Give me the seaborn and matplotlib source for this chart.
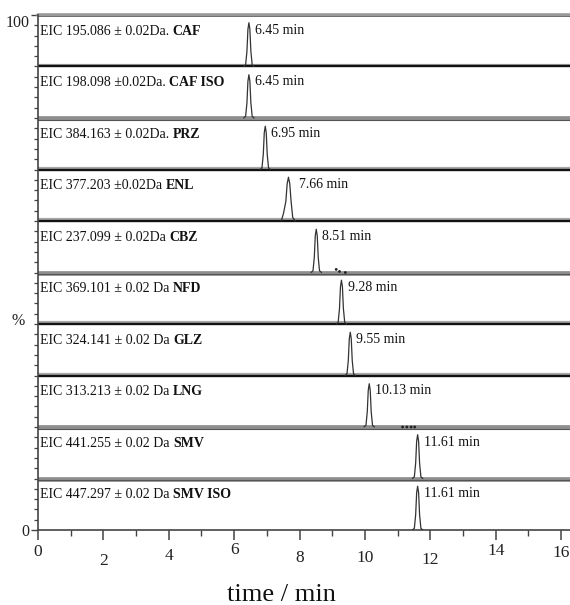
import numpy as np
import pandas as pd
import matplotlib
matplotlib.use("Agg")
import matplotlib.pyplot as plt
import seaborn as sns
from matplotlib.ticker import MultipleLocator, FixedLocator
from matplotlib.transforms import ScaledTranslation

# --- data -----------------------------------------------------------------
compounds = ["CAF", "CAF ISO", "PRZ", "ENL", "CBZ",
             "NFD", "GLZ", "LNG", "SMV", "SMV ISO"]
eic_prefix = ["EIC 195.086 \u00b1 0.02Da. ", "EIC 198.098 \u00b10.02Da. ",
              "EIC 384.163 \u00b1 0.02Da. ", "EIC 377.203 \u00b10.02Da ",
              "EIC 237.099 \u00b1 0.02Da ", "EIC 369.101 \u00b1 0.02 Da ",
              "EIC 324.141 \u00b1 0.02 Da ", "EIC 313.213 \u00b1 0.02 Da ",
              "EIC 441.255 \u00b1 0.02 Da ", "EIC 447.297 \u00b1 0.02 Da "]
retention_min = [6.45, 6.45, 6.95, 7.66, 8.51, 9.28, 9.55, 10.13, 11.61, 11.61]
apex_pct = [85, 84, 84, 85, 84, 85, 84, 84, 85, 85]
peak_kind = ["sharp", "sharp", "sharp", "broad", "sharp",
             "sharp", "sharp", "sharp", "sharp", "sharp"]

# peak profiles: time offset from apex (min) and relative intensity (%)
sharp_dt = [-0.16, -0.10, -0.06, -0.03, 0.0, 0.03, 0.06, 0.10, 0.16]
sharp_rel = [0, 4, 35, 85, 100, 85, 35, 4, 0]
broad_dt = [-0.22, -0.15, -0.08, -0.04, 0.0, 0.04, 0.08, 0.13, 0.21]
broad_rel = [0, 18, 45, 85, 100, 85, 45, 8, 0]

# minor features near the baseline
cbz_minor_t = [9.12, 9.22, 9.40]
cbz_minor_pct = [6, 2, 0]
lng_minor_t = [11.15, 11.28, 11.41, 11.52]
lng_minor_pct = [0, 0, 0, 0]

x_ticks = [0, 2, 4, 6, 8, 10, 12, 14, 16]

# --- style -----------------------------------------------------------------
sns.set_style("ticks")
plt.rcParams["font.family"] = ["Liberation Serif", "DejaVu Serif"]

n = len(compounds)
strip = 100 / n
profiles = {"sharp": (sharp_dt, sharp_rel), "broad": (broad_dt, broad_rel)}

rows = []
for i, name in enumerate(compounds):
    base = 100 - strip * (i + 1)
    dts, rels = profiles[peak_kind[i]]
    for dt, r in zip(dts, rels):
        rows.append({"compound": name, "time": retention_min[i] + dt,
                     "signal": base + strip * apex_pct[i] / 100 * r / 100})
df = pd.DataFrame(rows)

fig = plt.figure(figsize=(5.7, 6.05), dpi=100)
ax = fig.add_axes([38 / 570, 1 - 530 / 605, 1 - 38 / 570, (530 - 15) / 605])

# strip separators
black_seps = [90, 70, 60, 40, 30]
grey_seps = [80, 50, 20, 10]
for b in black_seps:
    ax.axhline(b + 0.35, color="#a8a8a8", lw=1.6, zorder=1)
    ax.axhline(b, color="#111111", lw=1.7, zorder=2)
for b in grey_seps:
    ax.axhline(b, color="#8e8e8e", lw=3.4, zorder=1)
    ax.axhline(b - 0.3, color="#555555", lw=0.8, zorder=2)
ax.axhline(100, color="#9a9a9a", lw=2.6, zorder=1, clip_on=False)
ax.axhline(99.8, color="#666666", lw=0.6, zorder=2, clip_on=False)

sns.lineplot(data=df, x="time", y="signal", units="compound", estimator=None,
             sort=False, color="#333333", lw=0.9, ax=ax, zorder=3, legend=False)

# small baseline features
i_cbz = compounds.index("CBZ")
i_lng = compounds.index("LNG")
minor = pd.DataFrame({
    "time": cbz_minor_t + lng_minor_t,
    "signal": [100 - strip * (i_cbz + 1) + strip * p / 100 for p in cbz_minor_pct]
              + [100 - strip * (i_lng + 1) + strip * p / 100 for p in lng_minor_pct],
})
sns.scatterplot(data=minor, x="time", y="signal", s=4, color="#222222",
                edgecolor="none", ax=ax, zorder=4, legend=False)

# strip and peak labels
for i, name in enumerate(compounds):
    top = 100 - strip * i
    t = ax.text(0.06, top - 3.2, eic_prefix[i], fontsize=10,
                va="center", ha="left", color="#111111", zorder=5)
    ax.annotate(name, xy=(1, 0.5), xycoords=t, va="center", ha="left",
                fontsize=10, fontweight="bold", color="#111111", zorder=5)
    off = 0.33 if peak_kind[i] == "broad" else 0.19
    ax.text(retention_min[i] + off, top - 3.0, f"{retention_min[i]:.2f} min",
            fontsize=10, va="center", ha="left", color="#111111", zorder=5)

# axes
ax.set_xlim(0, 16.27)
ax.set_ylim(0, 100)
ax.set_xlabel("")
ax.set_ylabel("")
for s in ["top", "right"]:
    ax.spines[s].set_visible(False)
for s in ["left", "bottom"]:
    ax.spines[s].set_color("#444444")
    ax.spines[s].set_linewidth(1.2)

ax.xaxis.set_major_locator(FixedLocator(x_ticks))
ax.xaxis.set_minor_locator(MultipleLocator(1))
ax.set_xticks(x_ticks)
ax.set_xticklabels([str(v) for v in x_ticks], fontsize=12.5, color="#222222")
ax.tick_params(axis="x", which="major", direction="out", length=7, width=1.1,
               color="#444444", pad=3)
ax.tick_params(axis="x", which="minor", direction="out", length=4, width=1.0,
               color="#444444")
label_drop_px = [0, 9, 4, -2, 6, 6, 8, -1, 1]
for lbl, d in zip(ax.get_xticklabels(), label_drop_px):
    lbl.set_transform(lbl.get_transform()
                      + ScaledTranslation(0, -d / 100, fig.dpi_scale_trans))

ax.set_yticks([0, 100])
ax.set_yticklabels(["0", "100"], fontsize=11.5, color="#222222")
ax.yaxis.set_minor_locator(MultipleLocator(2))
ax.tick_params(axis="y", which="major", direction="out", length=5, width=1.0,
               color="#444444", pad=1)
ax.tick_params(axis="y", which="minor", direction="out", length=3, width=0.9,
               color="#444444")
top_lbl = ax.get_yticklabels()[1]
top_lbl.set_transform(top_lbl.get_transform()
                      + ScaledTranslation(0, -6 / 100, fig.dpi_scale_trans))

ax.text(-0.025, 40.5, "%", transform=ax.get_yaxis_transform(), fontsize=11.5,
        ha="right", va="center", color="#222222")

fig.text(281 / 570, 0.006, "time / min", fontsize=19, ha="center",
         va="baseline", color="#111111")

fig.savefig("out.png", dpi=100)
